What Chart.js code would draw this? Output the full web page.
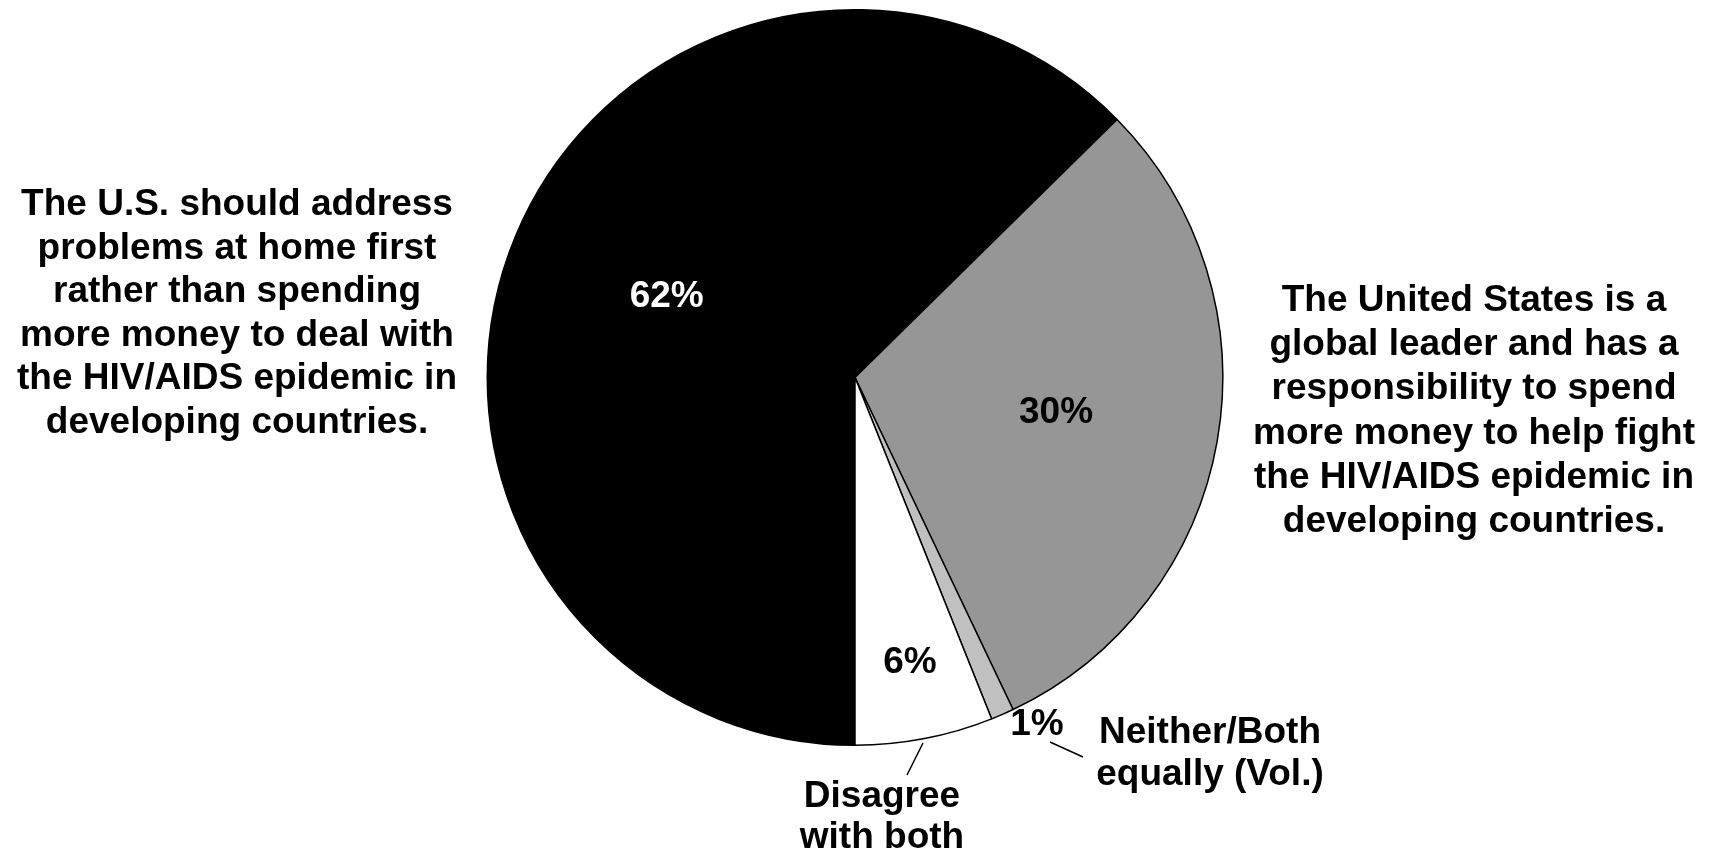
<!DOCTYPE html>
<html>
<head>
<meta charset="utf-8">
<script src="https://cdn.jsdelivr.net/npm/chart.js@4.4.1/dist/chart.umd.min.js"></script>
<style>
  html, body { margin: 0; padding: 0; background: #fff; }
  #wrap { width: 1711px; height: 859px; position: relative; }
</style>
</head>
<body>
<div id="wrap"><canvas id="pieChart"></canvas></div>
<script>
// survey answers, clockwise from the bottom
const categories = [
  "The U.S. should address problems at home first rather than spending more money to deal with the HIV/AIDS epidemic in developing countries.",
  "The United States is a global leader and has a responsibility to spend more money to help fight the HIV/AIDS epidemic in developing countries.",
  "Neither/Both equally (Vol.)",
  "Disagree with both"
];
const values = [62, 30, 1, 6];
const pctLabels = ["62%", "30%", "1%", "6%"];

const sliceColors = ["#000000", "#969696", "#c0c0c0", "#ffffff"];
const pctColors = ["#ffffff", "#000000", "#000000", "#000000"];
// label radius as a share of the pie radius, plus a small nudge in px
const pctRadius = [0.555, 0.555, 1.065, 0.79];
const pctNudge = [[0, -2], [0, 0], [25, -12], [0, 0]];

const FONT = "bold 37px 'Liberation Sans', Arial, sans-serif";

const leftText = ["The U.S. should address", "problems at home first", "rather than spending",
  "more money to deal with", "the HIV/AIDS epidemic in", "developing countries."];
const rightText = ["The United States is a", "global leader and has a", "responsibility to spend",
  "more money to help fight", "the HIV/AIDS epidemic in", "developing countries."];
const neitherText = ["Neither/Both", "equally (Vol.)"];
const disagreeText = ["Disagree", "with both"];

function drawLines(ctx, lines, x, y, step) {
  lines.forEach((line, i) => ctx.fillText(line, x, y + i * step));
}

const labelPlugin = {
  id: "pieLabels",
  afterDatasetsDraw(chart) {
    const ctx = chart.ctx;
    const arcs = chart.getDatasetMeta(0).data;
    ctx.save();
    ctx.font = FONT;
    ctx.textAlign = "center";
    ctx.textBaseline = "middle";
    arcs.forEach((arc, i) => {
      const mid = (arc.startAngle + arc.endAngle) / 2;
      const r = arc.outerRadius * pctRadius[i];
      const x = arc.x + Math.cos(mid) * r + pctNudge[i][0];
      const y = arc.y + Math.sin(mid) * r + pctNudge[i][1];
      ctx.fillStyle = pctColors[i];
      ctx.fillText(pctLabels[i], x, y);
    });

    ctx.fillStyle = "#000";
    ctx.textBaseline = "alphabetic";
    drawLines(ctx, leftText, 237, 215, 43.6);
    drawLines(ctx, rightText, 1474, 311, 44.2);
    drawLines(ctx, neitherText, 1210, 743, 42);
    drawLines(ctx, disagreeText, 882, 807, 41);

    // leader lines
    ctx.strokeStyle = "#000";
    ctx.lineWidth = 1.5;
    ctx.beginPath();
    ctx.moveTo(1050, 742); ctx.lineTo(1083, 757);
    ctx.moveTo(923, 743); ctx.lineTo(907, 775);
    ctx.stroke();
    ctx.restore();
  }
};

new Chart(document.getElementById("pieChart"), {
  type: "pie",
  data: {
    labels: categories,
    datasets: [{
      data: values,
      backgroundColor: sliceColors,
      borderColor: "#000000",
      borderWidth: 1.5,
      hoverOffset: 0
    }]
  },
  options: {
    responsive: true,
    maintainAspectRatio: false,
    animation: false,
    rotation: 180,
    layout: { padding: { top: 9, bottom: 113, left: 0, right: 1 } },
    plugins: { legend: { display: false }, tooltip: { enabled: false } }
  },
  plugins: [labelPlugin]
});
</script>
</body>
</html>
